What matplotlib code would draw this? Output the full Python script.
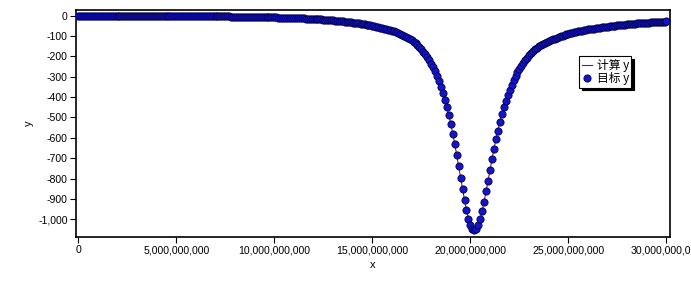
import numpy as np
import matplotlib
matplotlib.use("Agg")
import matplotlib.pyplot as plt
from matplotlib.ticker import FuncFormatter, MultipleLocator

plt.rcParams['font.family'] = ['Liberation Sans', 'Noto Sans CJK SC', 'DejaVu Sans']

# x grid: 0 .. 30e9 in steps of 0.1e9 (values in units of 1e9)
x_start = 0.0
x_step = 0.1
# target y values, one row per 1e9 of x (10 points each), last single point at 30e9
y_rows = [
    [0, 0, 0, 0, 0, 0, 0, 0, 0, 0],
    [0.0, -0.1, -0.1, -0.1, -0.1, -0.1, -0.1, -0.1, -0.1, -0.2],
    [-0.2, -0.2, -0.2, -0.2, -0.3, -0.3, -0.3, -0.3, -0.4, -0.4],
    [-0.4, -0.5, -0.5, -0.5, -0.6, -0.6, -0.6, -0.7, -0.7, -0.8],
    [-0.8, -0.9, -0.9, -1.0, -1.0, -1.1, -1.1, -1.2, -1.2, -1.3],
    [-1.4, -1.4, -1.5, -1.5, -1.6, -1.7, -1.7, -1.8, -1.9, -2.0],
    [-2.1, -2.1, -2.2, -2.3, -2.4, -2.5, -2.6, -2.7, -2.8, -2.9],
    [-3.0, -3.1, -3.2, -3.3, -3.5, -3.6, -3.7, -3.9, -4.0, -4.2],
    [-4.3, -4.4, -4.6, -4.7, -4.9, -5.0, -5.2, -5.4, -5.6, -5.8],
    [-6.0, -6.2, -6.4, -6.6, -6.8, -7.0, -7.3, -7.5, -7.8, -8.0],
    [-8.3, -8.6, -8.9, -9.2, -9.5, -9.8, -10.1, -10.4, -10.8, -11.1],
    [-11.5, -11.9, -12.3, -12.7, -13.1, -13.6, -14.1, -14.6, -15.1, -15.6],
    [-16.1, -16.7, -17.3, -17.9, -18.5, -19.2, -19.9, -20.6, -21.3, -22.1],
    [-22.9, -23.8, -24.7, -25.7, -26.7, -27.7, -28.8, -29.9, -31.0, -32.3],
    [-33.6, -35.0, -36.5, -38.0, -39.6, -41.2, -42.9, -44.7, -46.6, -48.0],
    [-49.5, -51.5, -53.6, -55.8, -58.1, -60.5, -63.0, -65.6, -68.4, -71.3],
    [-74.4, -77.6, -81.0, -84.6, -88.4, -92.6, -97.4, -102.4, -107.8, -113.6],
    [-120, -127, -135, -144, -154, -164.5, -176, -189, -203, -218],
    [-235, -254, -274, -297, -322, -349, -379, -413, -449, -489],
    [-533, -580, -630, -684, -740, -796, -853, -906, -955, -997],
    [-1028, -1048, -1055, -1048, -1029, -998, -959, -913, -862, -810],
    [-757, -705, -655, -608, -564, -523, -485, -450, -419, -390],
    [-363, -339, -316, -296, -278, -261, -245, -231, -218, -206],
    [-194, -184, -175, -166, -158, -150.5, -144.5, -139, -133.5, -128.5],
    [-124, -119.8, -115.8, -112, -108, -104, -100.8, -97.7, -94.8, -92.0],
    [-89.3, -86.7, -84.2, -81.8, -79.4, -77.2, -75.1, -73.0, -71.0, -69.1],
    [-67.5, -66.0, -64.6, -63.2, -61.8, -60.5, -59.2, -57.9, -56.6, -55.3],
    [-54.0, -52.7, -51.4, -50.2, -48.9, -47.5, -46.4, -45.4, -44.3, -43.3],
    [-42.4, -41.5, -40.6, -39.8, -39.0, -38.2, -37.4, -36.6, -35.9, -35.1],
    [-34.4, -33.7, -33.0, -32.2, -31.5, -30.8, -30.2, -29.6, -29.0, -28.5],
    [-28.0],
]
y_target = [v for row in y_rows for v in row]
x_vals = np.round(x_start + x_step * np.arange(len(y_target)), 1) * 1e9
y_calc = y_target  # computed curve coincides with target

series_labels = ['计算 y', '目标 y']
x_ticks = [0, 5e9, 10e9, 15e9, 20e9, 25e9, 30e9]

fig = plt.figure(figsize=(6.91, 2.82), dpi=100)
ax = fig.add_axes([76/691, 1 - 237/282, (670 - 76)/691, (237 - 10)/282])

ax.plot(x_vals, y_calc, color='#8b1a1a', lw=0.8, label=series_labels[0], zorder=2)
ax.plot(x_vals, y_target, linestyle='none', marker='o', markersize=5.2,
        markerfacecolor='#1414c8', markeredgecolor='#000050', markeredgewidth=0.6,
        label=series_labels[1], zorder=3)

ax.set_xlim(-0.117e9, 30.18e9)
ax.set_ylim(-1087, 28)
ax.set_xticks(x_ticks)
ax.yaxis.set_major_locator(MultipleLocator(100))
fmt = FuncFormatter(lambda v, p: f"{int(round(v)):,}")
ax.xaxis.set_major_formatter(fmt)
ax.yaxis.set_major_formatter(fmt)
ax.tick_params(axis='both', labelsize=7.6, length=4, width=0.8, color='black', pad=2)
for s in ax.spines.values():
    s.set_linewidth(1.2)
    s.set_color('black')

ax.set_xlabel('x', fontsize=8, labelpad=3)
ax.set_ylabel('y', fontsize=8, labelpad=3)

leg = ax.legend(loc='center', bbox_to_anchor=(0.891, 0.727),
                prop={'family': ['Noto Sans CJK SC', 'DejaVu Sans'], 'size': 8.5},
                frameon=True, fancybox=False, edgecolor='black', framealpha=1,
                shadow={'color': 'black', 'alpha': 1},
                borderpad=0.2, labelspacing=0.05, handlelength=0.9, handletextpad=0.35,
                borderaxespad=0)
leg.get_frame().set_linewidth(0.8)

fig.savefig('out.png', dpi=100)
